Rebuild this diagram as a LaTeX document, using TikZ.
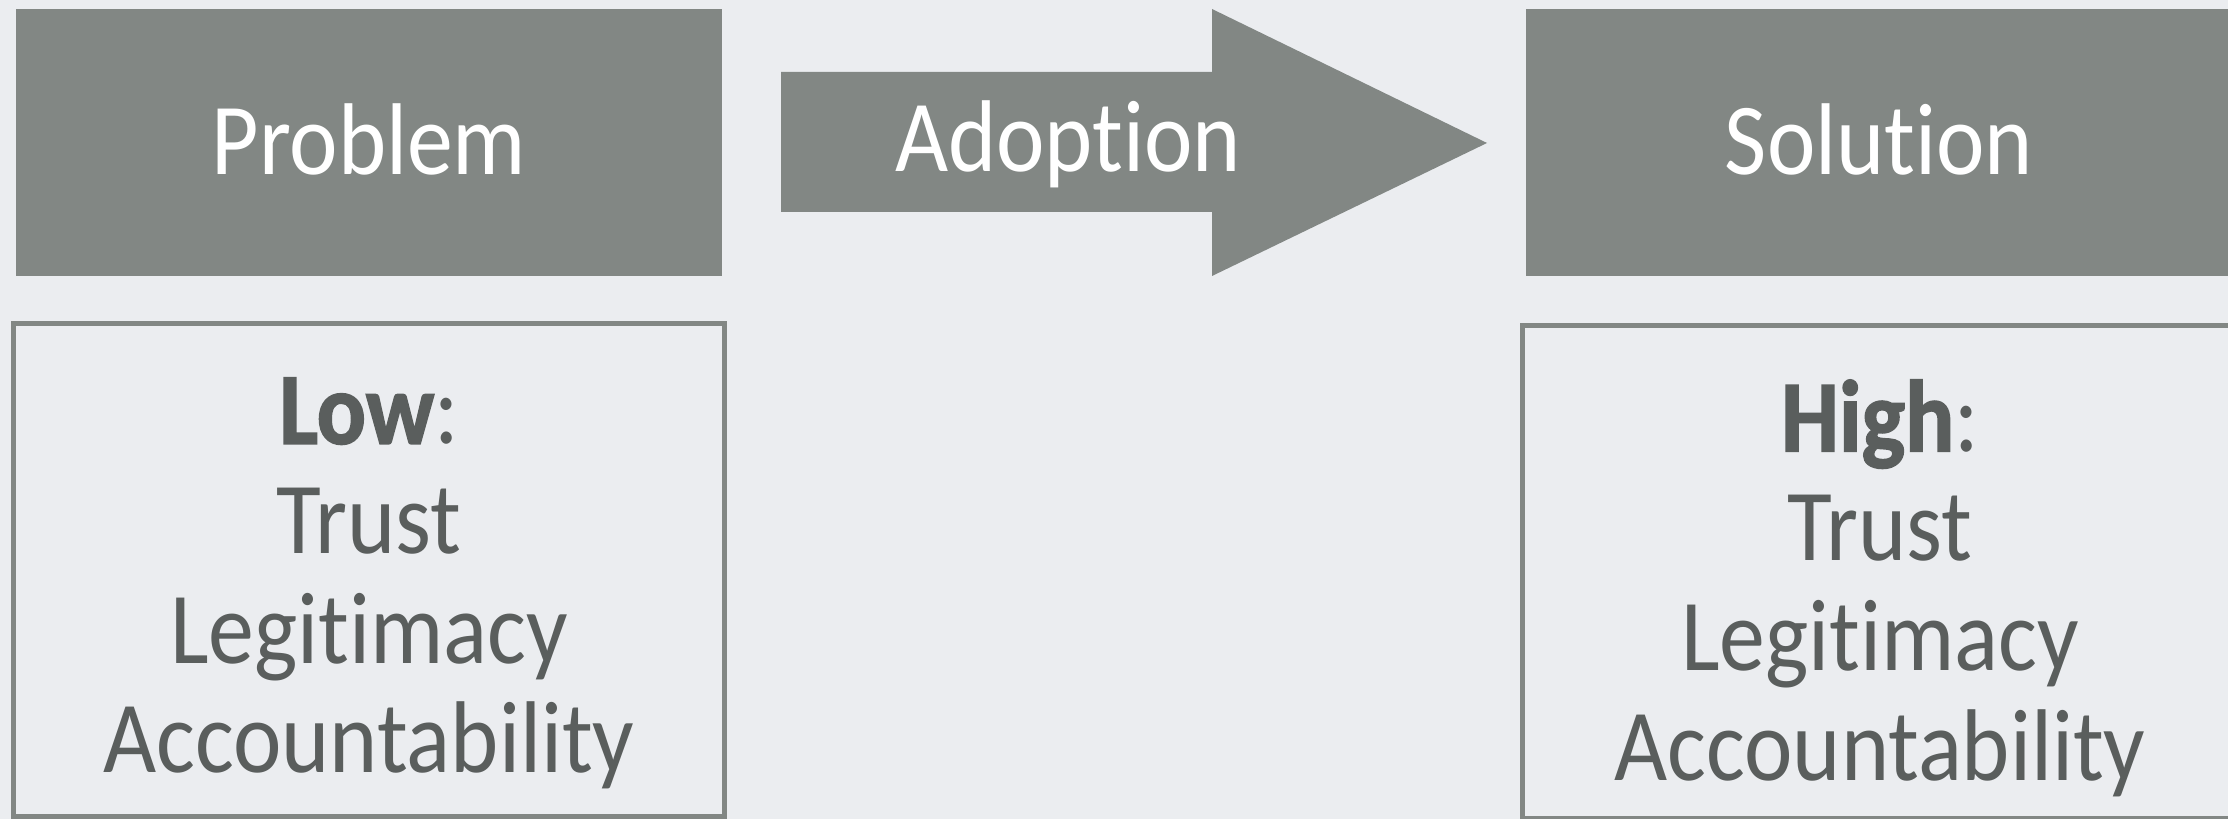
\documentclass[tikz,border=0pt]{standalone}
\usepackage{fontspec}
\setmainfont{Carlito}[FakeStretch=0.9, Ligatures={NoCommon, NoRare, NoContextual}, BoldFeatures={FakeBold=1.5}]
\usepackage{xcolor}
\usepackage{tikz}
\usetikzlibrary{positioning}
\definecolor{slidebg}{RGB}{235,237,240}
\definecolor{boxgray}{RGB}{130,135,132}
\definecolor{textgray}{RGB}{90,94,93}

\begin{document}
\begin{tikzpicture}[x=0.01cm, y=-0.01cm,
topbox/.style={rectangle, fill=boxgray, text=white, minimum width=7.06cm, minimum height=2.67cm, text height=18.3pt, text depth=0pt, font=\fontsize{29}{31.2}\selectfont},
frame/.style={rectangle, draw=boxgray, line width=1.4pt, minimum width=7.1cm, minimum height=4.925cm},
listtext/.style={text=textgray, align=center, inner sep=0pt, anchor=north, font=\fontsize{29}{31.2}\selectfont}
]
\useasboundingbox (0,0) rectangle (2228,819);
\fill[slidebg] (0,0) rectangle (2228,819);
\clip (0,0) rectangle (2228,819);

\node[topbox] (problem) at (369,142.5) {Problem};
\node[topbox] (solution) at (1879,142.5) {Solution};

\fill[boxgray] (781,72) -- (1212,72) -- (1212,9) -- (1487,143) -- (1212,276) -- (1212,212) -- (781,212) -- cycle;
\node[topbox, fill=none, minimum width=0pt, minimum height=0pt, inner sep=0pt] (adoption) at (1068,139) {Adoption};

\node[frame] (lowbox) at (369,569.75) {};
\node[listtext] (low) at (369,377) {{\bfseries Low}:\\Trust\\Legitimacy\\Accountability};

\node[frame] (highbox) at (1877.5,572.25) {};
\node[listtext] (high) at (1880,379) {{\bfseries High}:\\Trust\\Legitimacy\\Accountability};

\end{tikzpicture}
\end{document}
